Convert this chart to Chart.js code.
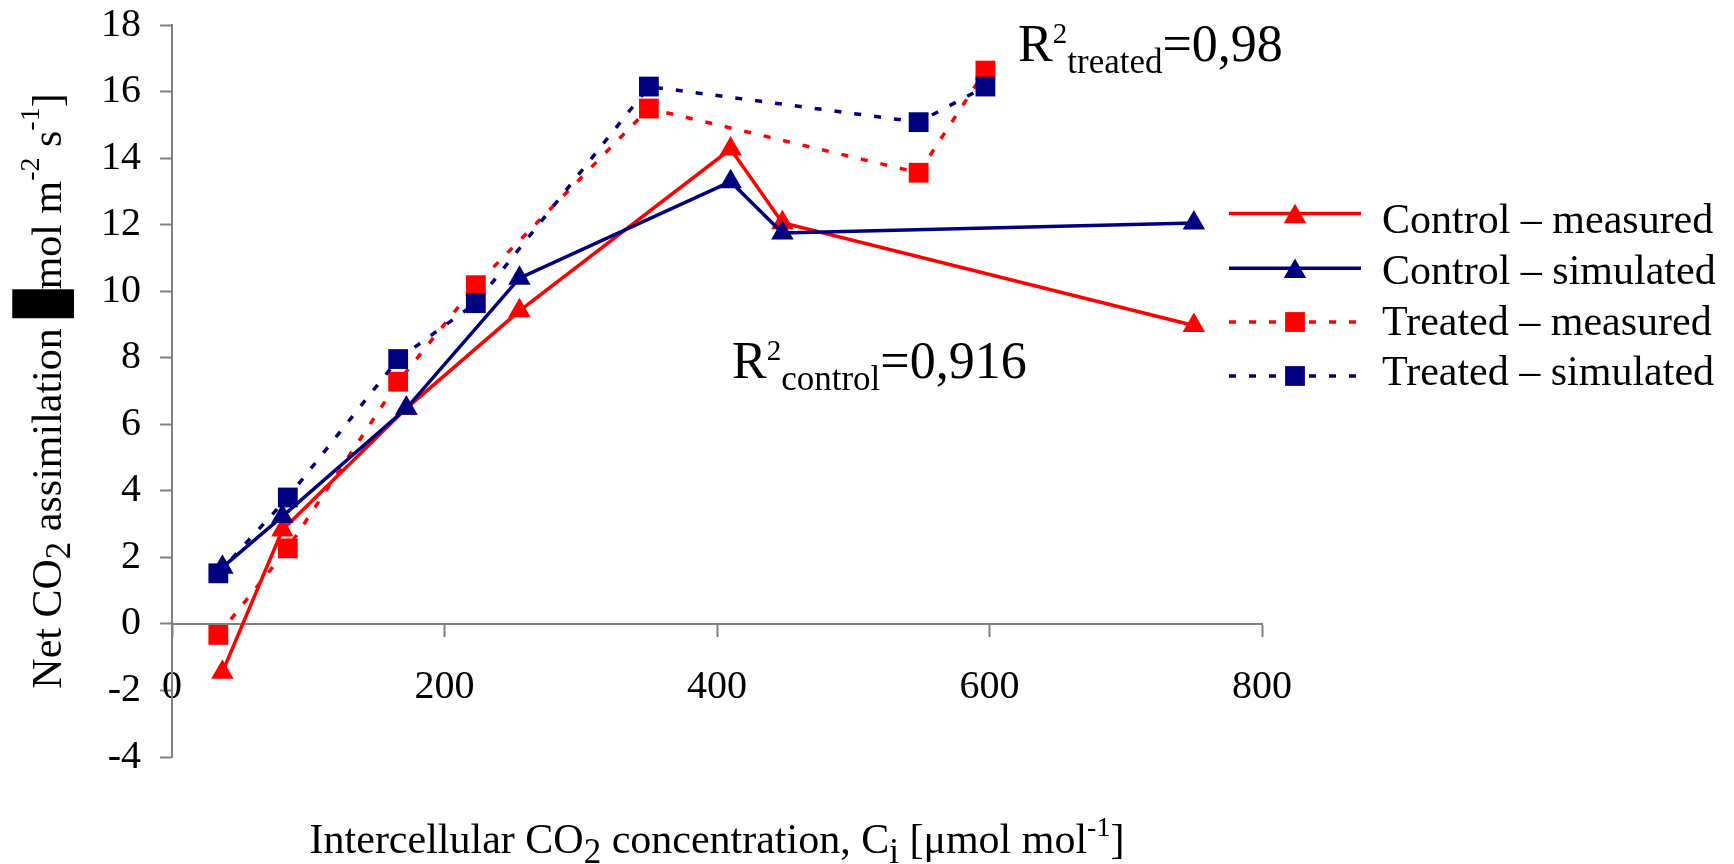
<!DOCTYPE html>
<html>
<head>
<meta charset="utf-8">
<script src="https://cdn.jsdelivr.net/npm/chart.js@4.4.1/dist/chart.umd.min.js"></script>
<style>
  html, body { margin: 0; padding: 0; background: #fff; }
  canvas { display: block; }
</style>
</head>
<body>
<canvas id="chart" width="1734" height="864"></canvas>
<script>
// Data
const controlX = [37, 81, 172, 255, 410, 448, 750];
const controlMeasured = [-1.45, 2.82, 6.48, 9.41, 14.27, 12.06, 8.97];
const controlSimulated = [1.70, 3.23, 6.48, 10.39, 13.29, 11.75, 12.05];
const treatedX = [34, 85, 166, 223, 350, 548, 597];
const treatedMeasured = [-0.33, 2.27, 7.28, 10.18, 15.49, 13.56, 16.63];
const treatedSimulated = [1.52, 3.80, 7.96, 9.64, 16.15, 15.08, 16.15];
const seriesNames = ['Control – measured', 'Control – simulated', 'Treated – measured', 'Treated – simulated'];
const xTicks = [0, 200, 400, 600, 800];
const yTicks = [-4, -2, 0, 2, 4, 6, 8, 10, 12, 14, 16, 18];
const r2Labels = [
  { sub: 'control', text: '=0,916', x: 411, y: 7.38 },
  { sub: 'treated', text: '=0,98', x: 621, y: 16.92 }
];

const RED = '#FF0000';
const NAVY = '#000080';
const AXIS = '#808080';
const SERIF = '"Liberation Serif", "Times New Roman", serif';
const DOTS = [7, 13];

function makeSet(label, xs, ys, color, style, dash, order) {
  const r = style === 'triangle' ? 13 : 14;
  return {
    label: label,
    data: xs.map((x, i) => ({ x: x, y: ys[i] })),
    showLine: true,
    borderColor: color,
    backgroundColor: color,
    borderWidth: 3.5,
    borderDash: dash,
    borderCapStyle: 'butt',
    tension: 0,
    pointStyle: style,
    pointRadius: r,
    pointHoverRadius: r,
    pointBackgroundColor: color,
    pointBorderWidth: 0,
    order: order
  };
}

const datasets = [
  makeSet(seriesNames[0], controlX, controlMeasured, RED, 'triangle', [], 3),
  makeSet(seriesNames[1], controlX, controlSimulated, NAVY, 'triangle', [], 1),
  makeSet(seriesNames[2], treatedX, treatedMeasured, RED, 'rect', DOTS, 2),
  makeSet(seriesNames[3], treatedX, treatedSimulated, NAVY, 'rect', DOTS, 0)
];

// text with sub/superscript parts
function drawRich(ctx, parts, x, y, align) {
  let total = 0;
  parts.forEach(p => {
    ctx.font = p.size + 'px ' + (p.family || SERIF);
    p.w = ctx.measureText(p.t).width * (p.sx || 1);
    total += p.w;
  });
  let cx = align === 'center' ? x - total / 2 : x;
  ctx.textAlign = 'left';
  ctx.textBaseline = 'alphabetic';
  parts.forEach(p => {
    ctx.font = p.size + 'px ' + (p.family || SERIF);
    ctx.save();
    ctx.translate(cx, y + (p.dy || 0));
    ctx.scale(p.sx || 1, p.sy || 1);
    ctx.fillText(p.t, 0, 0);
    ctx.restore();
    cx += p.w;
  });
}

function drawMarker(ctx, style, x, y, color) {
  ctx.fillStyle = color;
  ctx.beginPath();
  if (style === 'triangle') {
    const r = 13;
    const cy = y + r * 0.25;
    ctx.moveTo(x, cy - r);
    ctx.lineTo(x + r * Math.cos(Math.PI / 6), cy + r / 2);
    ctx.lineTo(x - r * Math.cos(Math.PI / 6), cy + r / 2);
    ctx.closePath();
  } else {
    const s = 14 * Math.SQRT1_2;
    ctx.rect(x - s, y - s, 2 * s, 2 * s);
  }
  ctx.fill();
}

const textPlugin = {
  id: 'textPlugin',
  afterDraw(chart) {
    const ctx = chart.ctx;
    const area = chart.chartArea;
    const xs = chart.scales.x, ys = chart.scales.y;
    ctx.save();
    ctx.fillStyle = '#000';

    // x axis title
    drawRich(ctx, [
      { t: 'Intercellular CO', size: 42 },
      { t: '2', size: 35, dy: 10 },
      { t: ' concentration, C', size: 42 },
      { t: 'i', size: 35, dy: 10 },
      { t: ' [\u03bcmol mol', size: 42 },
      { t: '-1', size: 28, dy: -17 },
      { t: ']', size: 42 }
    ], (area.left + area.right) / 2, 853, 'center');

    // y axis title
    ctx.save();
    ctx.translate(61, (area.top + area.bottom) / 2);
    ctx.rotate(-Math.PI / 2);
    drawRich(ctx, [
      { t: 'Net CO', size: 42 },
      { t: '2', size: 35, dy: 9 },
      { t: ' assimilation ', size: 42 },
      { t: '\u2588', size: 40, family: '"DejaVu Sans"', sx: 0.92, sy: 1.3 },
      { t: 'mol m', size: 42 },
      { t: '-2', size: 28, dy: -22 },
      { t: ' s', size: 42 },
      { t: '-1', size: 28, dy: -22 },
      { t: ']', size: 42 }
    ], 0, 0, 'center');
    ctx.restore();

    // R squared labels
    r2Labels.forEach(l => {
      drawRich(ctx, [
        { t: 'R', size: 52 },
        { t: '2', size: 29, dy: -18 },
        { t: l.sub, size: 35, dy: 12 },
        { t: l.text, size: 52 }
      ], xs.getPixelForValue(l.x), ys.getPixelForValue(l.y), 'left');
    });

    // legend
    const lineY = [213.5, 268.3, 322, 376];
    const textY = [233.3, 283.5, 334.5, 385];
    chart.data.datasets.forEach((d, i) => {
      ctx.save();
      ctx.strokeStyle = d.borderColor;
      ctx.lineWidth = d.borderWidth;
      ctx.setLineDash(d.borderDash);
      ctx.lineCap = 'butt';
      ctx.beginPath();
      ctx.moveTo(1229, lineY[i]);
      ctx.lineTo(1361, lineY[i]);
      ctx.stroke();
      ctx.restore();
      drawMarker(ctx, d.pointStyle, 1295, lineY[i], d.borderColor);
      ctx.fillStyle = '#000';
      ctx.font = '42px ' + SERIF;
      ctx.textAlign = 'left';
      ctx.textBaseline = 'alphabetic';
      ctx.fillText(d.label, 1382, textY[i]);
    });
    ctx.restore();
  }
};

const tickFont = { family: SERIF, size: 40 };

new Chart(document.getElementById('chart'), {
  type: 'scatter',
  data: { datasets: datasets },
  options: {
    responsive: false,
    devicePixelRatio: 1,
    animation: false,
    events: [],
    layout: { padding: { left: 0, top: 25, right: 472, bottom: 107 } },
    plugins: { legend: { display: false }, tooltip: { enabled: false } },
    scales: {
      x: {
        type: 'linear',
        min: xTicks[0],
        max: xTicks[xTicks.length - 1],
        position: { y: 0 },
        afterBuildTicks: s => { s.ticks = xTicks.map(v => ({ value: v })); },
        afterFit: s => {
          s.paddingLeft = 0; s.paddingRight = 0;
          s.paddingTop = 0; s.paddingBottom = 0;
        },
        grid: { drawOnChartArea: false, drawTicks: true, tickLength: 12, tickWidth: 2, tickColor: AXIS },
        border: { display: true, color: AXIS, width: 2 },
        ticks: { color: '#000', font: tickFont, padding: 28, maxRotation: 0, autoSkip: false }
      },
      y: {
        type: 'linear',
        min: yTicks[0],
        max: yTicks[yTicks.length - 1],
        position: 'left',
        afterBuildTicks: s => { s.ticks = yTicks.map(v => ({ value: v })); },
        afterFit: s => {
          s.width = 172;
          s.paddingTop = 0; s.paddingBottom = 0;
        },
        grid: { drawOnChartArea: false, drawTicks: true, tickLength: 12, tickWidth: 2, tickColor: AXIS },
        border: { display: true, color: AXIS, width: 2 },
        ticks: { color: '#000', font: tickFont, padding: 19, autoSkip: false }
      }
    }
  },
  plugins: [textPlugin]
});
</script>
</body>
</html>
